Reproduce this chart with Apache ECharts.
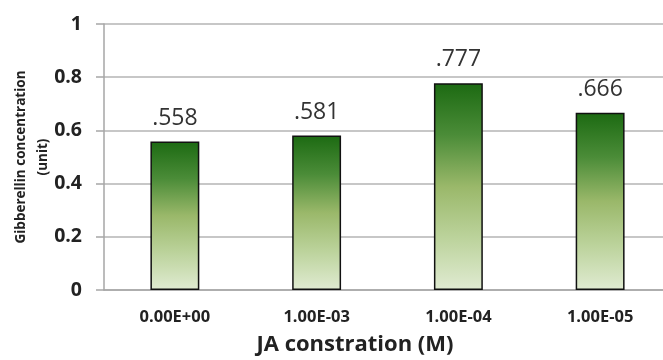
<!DOCTYPE html>
<html>
<head>
<meta charset="utf-8">
<script src="https://cdn.jsdelivr.net/npm/echarts@6/dist/echarts.min.js"></script>
<style>
  html, body { margin: 0; padding: 0; background: #ffffff; }
  #chart { width: 663px; height: 360px; }
</style>
</head>
<body>
<div id="chart"></div>
<script>
// JA concentration levels and measured gibberellin content
const categories = ['0.00E+00', '1.00E-03', '1.00E-04', '1.00E-05'];
const gibberellin = [0.558, 0.581, 0.777, 0.666];
const yTicks = [0, 0.2, 0.4, 0.6, 0.8, 1];

const FONT = '"Open Sans", "Liberation Sans", sans-serif';

const chart = echarts.init(document.getElementById('chart'));

chart.setOption({
  backgroundColor: '#ffffff',
  animation: false,
  grid: { left: 104, right: -8, top: 24, bottom: 70, containLabel: false, outerBoundsMode: 'none' },
  xAxis: {
    type: 'category',
    data: categories,
    name: 'JA constration (M)',
    nameLocation: 'middle',
    nameGap: 44,
    nameMoveOverlap: false,
    nameTextStyle: {
      fontFamily: FONT, fontSize: 22, fontWeight: 'bold', color: '#222',
      padding: [0, 65, 0, 0]
    },
    axisLine: { lineStyle: { color: '#a6a6a6', width: 1.5 } },
    axisTick: { show: false },
    axisLabel: {
      fontFamily: FONT, fontSize: 16.5, fontWeight: 'bold', color: '#222', margin: 19
    }
  },
  yAxis: {
    type: 'value',
    min: 0,
    max: 1,
    interval: 0.2,
    name: 'Gibberellin concentration\n(unit)',
    nameLocation: 'middle',
    nameRotate: 90,
    nameGap: 50,
    nameMoveOverlap: false,
    nameTextStyle: {
      fontFamily: FONT, fontSize: 13.5, fontWeight: 'bold', color: '#222', lineHeight: 22
    },
    axisLine: { show: true, lineStyle: { color: '#a6a6a6', width: 1.5 } },
    axisTick: { show: true, inside: false, length: 8, lineStyle: { color: '#a6a6a6', width: 1.5 } },
    splitLine: { lineStyle: { color: '#b4b4b4', width: 1.5 } },
    axisLabel: {
      fontFamily: FONT, fontSize: 19.5, fontWeight: 'bold', color: '#222', margin: 22,
      formatter: v => {
        const hit = yTicks.find(t => Math.abs(t - v) < 1e-9);
        return hit === undefined ? '' : String(hit);
      }
    }
  },
  series: [{
    type: 'bar',
    data: gibberellin,
    barWidth: '34.5%',
    itemStyle: {
      borderColor: '#111',
      borderWidth: 1.5,
      color: new echarts.graphic.LinearGradient(0, 0, 0, 1, [
        { offset: 0, color: '#1c6a12' },
        { offset: 0.25, color: '#4b8c38' },
        { offset: 0.5, color: '#9ab86a' },
        { offset: 0.75, color: '#bcd39c' },
        { offset: 1, color: '#e0ebd2' }
      ])
    },
    label: {
      show: true,
      position: 'top',
      distance: 12,
      fontFamily: FONT,
      fontSize: 23,
      color: '#333',
      formatter: p => p.value.toFixed(3).replace(/^0/, '')
    }
  }]
});
</script>
</body>
</html>
